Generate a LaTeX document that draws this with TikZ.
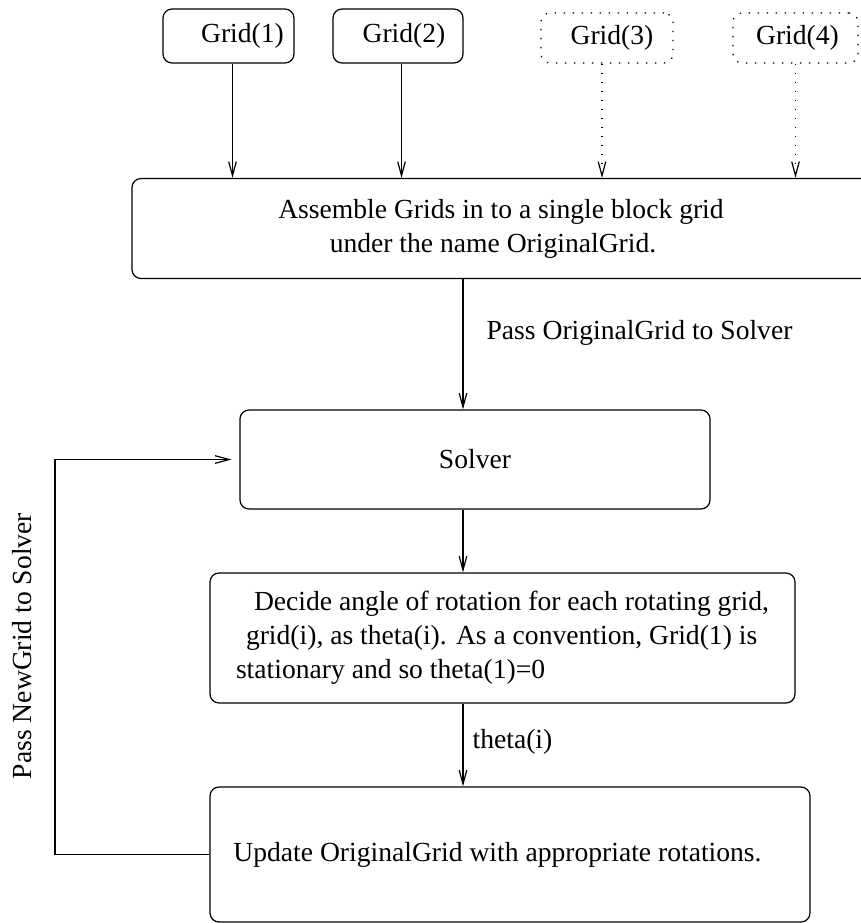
\documentclass[tikz,border=0pt]{standalone}
\usepackage{fontspec}
\setmainfont{Liberation Serif}
\usetikzlibrary{arrows.meta}
\tikzset{
  box/.style={draw, rounded corners=4.5pt, align=center, inner sep=0pt},
  gridbox/.style={box, minimum height=27pt},
  ghost/.style={dash pattern=on 0.7pt off 3.8pt},
  ghostbox/.style={box, ghost, minimum height=25pt},
  lbl/.style={inner sep=0pt}
}

\begin{document}
\begin{tikzpicture}[x=0.5pt,y=-0.5pt,line width=0.6pt,
    >={Straight Barb[length=7pt,width=3.8pt]},
    font=\fontsize{13.8}{17}\selectfont]
  \clip (0,0) rectangle (861,923);
  \coordinate (trunk) at (463,0);
  \coordinate (loop) at (55,0);
  % the grids
  \foreach \n/\x/\w/\s in {1/228.5/65.5pt/14pt,2/398/65pt/6pt}{
    \node[gridbox,minimum width=\w] (grid\n) at (\x,36) {\hspace*{\s}Grid(\n)};
  }
  \foreach \n/\x/\w/\s in {3/607/66pt/5pt,4/795.5/62.5pt/2pt}{
    \node[ghostbox,minimum width=\w] (grid\n) at (\x,38) {\hspace*{\s}Grid(\n)};
  }
  \node[box,minimum width=369pt,minimum height=50pt] (assemble) at (501,228.5)
    {Assemble Grids in to a single block grid\\ under the name OriginalGrid.\hspace*{8pt}};
  \node[box,minimum width=235pt,minimum height=49.5pt] (solver) at (475,459.5) {Solver};
  \node[box,align=left,minimum width=292.5pt,minimum height=65pt] (decide) at (502.5,638)
    {\hspace*{9pt}Decide angle of rotation for each rotating grid,\\
     \hspace*{5pt}grid(i), as theta(i). As a convention, Grid(1) is\\
     stationary and so theta(1)=0};
  \node[box,minimum width=300pt,minimum height=67.5pt] (update) at (510,854.5)
    {Update OriginalGrid with appropriate rotations.\hspace*{12.5pt}};
  \node[lbl,rotate=90] (passnew) at (22,646) {Pass NewGrid to Solver};
  % arrows
  \foreach \n/\d in {1/2pt,2/1.75pt}{
    \draw[->] ([xshift=\d]grid\n.south) -- ([xshift=\d]grid\n.south |- assemble.north);
  }
  \foreach \n/\d in {3/-2.5pt,4/0pt}{
    \draw[->,ghost] ([xshift=\d]grid\n.south) -- ([xshift=\d]grid\n.south |- assemble.north);
  }
  \draw[->] (assemble.south -| trunk) -- node[lbl,pos=0.41,right=11.5pt] {Pass OriginalGrid to Solver} (solver.north -| trunk);
  \draw[->] (solver.south -| trunk) -- (decide.north -| trunk);
  \draw[->] (decide.south -| trunk) -- node[lbl,pos=0.46,right=4.5pt] {theta(i)} (update.north -| trunk);
  \draw[->,shorten >=4pt] (update.west) -| (loop |- solver.west) -- (solver.west);
\end{tikzpicture}
\end{document}
